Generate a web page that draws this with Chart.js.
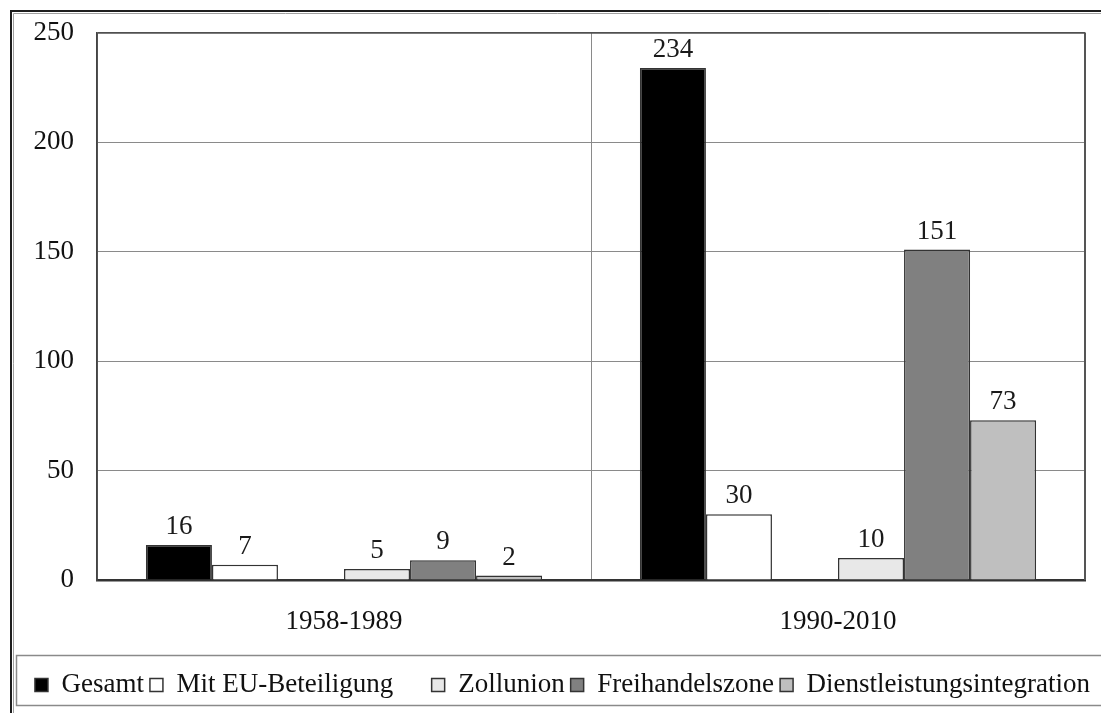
<!DOCTYPE html>
<html>
<head>
<meta charset="utf-8">
<script src="https://cdn.jsdelivr.net/npm/chart.js@4/dist/chart.umd.min.js"></script>
<style>
  html, body { margin: 0; padding: 0; background: #ffffff; }
  #wrap { width: 1101px; height: 713px; position: relative; }
</style>
</head>
<body>
<div id="wrap"><canvas id="c" width="1101" height="713"></canvas></div>
<script>
const categories = ['1958-1989', '1990-2010'];
const seriesNames = ['Gesamt', 'Mit EU-Beteiligung', '', 'Zollunion', 'Freihandelszone', 'Dienstleistungsintegration'];
const gesamt = [16, 234];
const mitEU = [7, 30];
const leer = [null, null];
const zollunion = [5, 10];
const freihandelszone = [9, 151];
const dienstleistung = [2, 73];
const yTicks = [0, 50, 100, 150, 200, 250];

const FONT = '"Liberation Serif", "Times New Roman", serif';
const colors = ['#000000', '#ffffff', 'rgba(0,0,0,0)', '#e8e8e8', '#808080', '#bfbfbf'];
const borders = ['#333333', '#333333', 'rgba(0,0,0,0)', '#333333', '#333333', '#333333'];
const values = [gesamt, mitEU, leer, zollunion, freihandelszone, dienstleistung];

const datasets = values.map((v, i) => ({
  label: seriesNames[i],
  data: v,
  backgroundColor: colors[i],
  borderColor: borders[i],
  borderWidth: 1.5,
  categoryPercentage: 0.802,
  barPercentage: 1.0
}));

const decorPlugin = {
  id: 'decor',
  afterDraw(chart) {
    const ctx = chart.ctx;
    const a = chart.chartArea;
    ctx.save();
    // outer frame
    ctx.strokeStyle = '#1e1e1e';
    ctx.lineWidth = 2;
    ctx.beginPath();
    ctx.moveTo(11, 713); ctx.lineTo(11, 11); ctx.lineTo(1101, 11);
    ctx.stroke();
    ctx.strokeStyle = '#a0a0a0';
    ctx.lineWidth = 1;
    ctx.beginPath();
    ctx.moveTo(13.5, 713); ctx.lineTo(13.5, 13.5); ctx.lineTo(1101, 13.5);
    ctx.stroke();
    // legend frame
    ctx.strokeStyle = '#8a8a8a';
    ctx.lineWidth = 1.5;
    ctx.strokeRect(16.5, 655.5, 1100, 50);
    // plot frame right edge
    ctx.strokeStyle = '#555555';
    ctx.lineWidth = 2;
    ctx.beginPath();
    ctx.moveTo(a.right, a.top - 0.5); ctx.lineTo(a.right, a.bottom);
    ctx.stroke();
    ctx.restore();
  },
  afterDatasetsDraw(chart) {
    const ctx = chart.ctx;
    ctx.save();
    ctx.font = '27px ' + FONT;
    ctx.fillStyle = '#1a1a1a';
    ctx.textAlign = 'center';
    ctx.textBaseline = 'alphabetic';
    chart.data.datasets.forEach((ds, di) => {
      const meta = chart.getDatasetMeta(di);
      meta.data.forEach((el, i) => {
        const v = ds.data[i];
        if (v === null || v === undefined) return;
        ctx.fillText(String(v), el.x, el.y - 11);
      });
    });
    ctx.restore();
  }
};

new Chart(document.getElementById('c'), {
  type: 'bar',
  data: { labels: categories, datasets },
  options: {
    responsive: false,
    animation: false,
    devicePixelRatio: 1,
    layout: { padding: { left: 24, right: 0, top: 33, bottom: 4.5 } },
    plugins: {
      legend: {
        position: 'bottom',
        align: 'center',
        labels: {
          font: { family: FONT, size: 27 },
          color: '#111111',
          boxWidth: 13,
          boxHeight: 13,
          padding: 6
        }
      },
      tooltip: { enabled: false },
      title: { display: false }
    },
    scales: {
      x: {
        grid: { color: '#8a8a8a', lineWidth: 1, drawTicks: false, offset: true },
        border: { color: '#333333', width: 2.5 },
        ticks: { font: { family: FONT, size: 27 }, color: '#111111', padding: 26 },
        afterFit(s) { s.height = 85.5; s.paddingLeft = 0; s.paddingRight = 0; }
      },
      y: {
        min: 0, max: 250,
        afterBuildTicks(s) { s.ticks = yTicks.map(v => ({ value: v })); },
        grid: {
          drawTicks: false,
          color: (c) => (c.tick && c.tick.value === 250 ? '#505050' : '#8a8a8a'),
          lineWidth: (c) => (c.tick && c.tick.value === 250 ? 1.8 : 1)
        },
        border: { color: '#444444', width: 1.8 },
        ticks: { font: { family: FONT, size: 27 }, color: '#111111', padding: 23 },
        afterFit(s) { s.width = 73; s.paddingTop = 0; s.paddingBottom = 0; }
      },
      r: {
        position: 'right',
        display: true,
        grid: { display: false },
        border: { display: false },
        ticks: { display: false },
        afterFit(s) { s.width = 16; s.paddingTop = 0; s.paddingBottom = 0; }
      }
    }
  },
  plugins: [decorPlugin]
});
</script>
</body>
</html>
